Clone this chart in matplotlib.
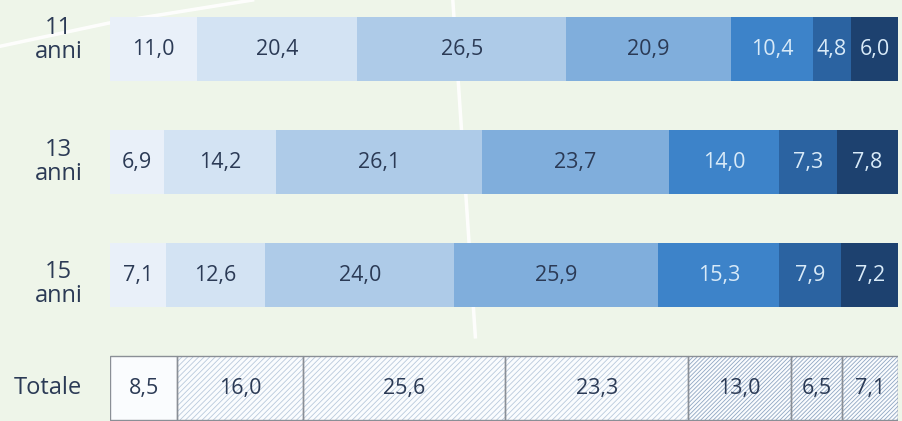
import matplotlib.pyplot as plt
from matplotlib.lines import Line2D

rows = ["11\nanni", "13\nanni", "15\nanni"]
vals_11 = [11.0, 20.4, 26.5, 20.9, 10.4, 4.8, 6.0]
vals_13 = [6.9, 14.2, 26.1, 23.7, 14.0, 7.3, 7.8]
vals_15 = [7.1, 12.6, 24.0, 25.9, 15.3, 7.9, 7.2]
vals_tot = [8.5, 16.0, 25.6, 23.3, 13.0, 6.5, 7.1]

colors = ["#e9f0f9", "#d3e3f3", "#aecbe8", "#80aedc", "#3d83c9", "#2b63a1", "#1d416f"]
txt_colors = ["#2b3a55"] * 4 + ["#d8eaf8"] * 3
bg = "#eef5e9"
navy = "#2b3a55"

plt.rcParams['font.family'] = ['Open Sans', 'DejaVu Sans']
plt.rcParams['hatch.linewidth'] = 0.6

fig = plt.figure(figsize=(9.02, 4.21), dpi=100, facecolor=bg)
ax = fig.add_axes([0.122, 0.0, 0.8736, 1.0])
ax.set_facecolor(bg)

# decorative white lines of the background
fig.add_artist(Line2D([0.0, 0.12, 0.28], [0.89, 0.945, 1.0], color="white", lw=2.5, alpha=0.9, zorder=0))
fig.add_artist(Line2D([0.502, 0.527], [1.0, 0.2], color="white", lw=2.5, alpha=0.9, zorder=0))

h = 0.57
label_dy = [-0.08, 0.0, 0.08]
for i, vals in enumerate([vals_11, vals_13, vals_15]):
    left = 0
    for j, v in enumerate(vals):
        ax.barh(i, v, left=left, height=h, color=colors[j], linewidth=0, zorder=2)
        ax.text(left + v / 2, i, f"{v:.1f}".replace(".", ","), ha="center", va="center",
                fontsize=15.5, color=txt_colors[j], zorder=3)
        left += v
    ax.text(-0.065, i + label_dy[i], rows[i], transform=ax.get_yaxis_transform(), ha="center",
            va="center", fontsize=17, color=navy, linespacing=1.0)

# Totale row: white with hatching
left = 0
for j, v in enumerate(vals_tot):
    hatch = None if j == 0 else ("//////" if j < 4 else "////////")
    hcol = "#b9c9dc" if j < 4 else "#8fa6c2"
    ax.barh(3, v, left=left, height=h, color="#fafcfe", edgecolor=hcol, hatch=hatch,
            linewidth=0, zorder=2)
    ax.barh(3, v, left=left, height=h, fill=False, edgecolor="#8a8f96", linewidth=1, zorder=3)
    ax.text(left + v / 2, 3, f"{v:.1f}".replace(".", ","), ha="center", va="center",
            fontsize=15.5, color=navy, zorder=4)
    left += v
ax.text(-0.079, 3, "Totale", transform=ax.get_yaxis_transform(), ha="center", va="center",
        fontsize=17, color=navy)

ax.set_xlim(0, 100)
ax.set_ylim(3.29, -0.434)
ax.axis("off")

fig.savefig("out.png", dpi=100, facecolor=bg)
